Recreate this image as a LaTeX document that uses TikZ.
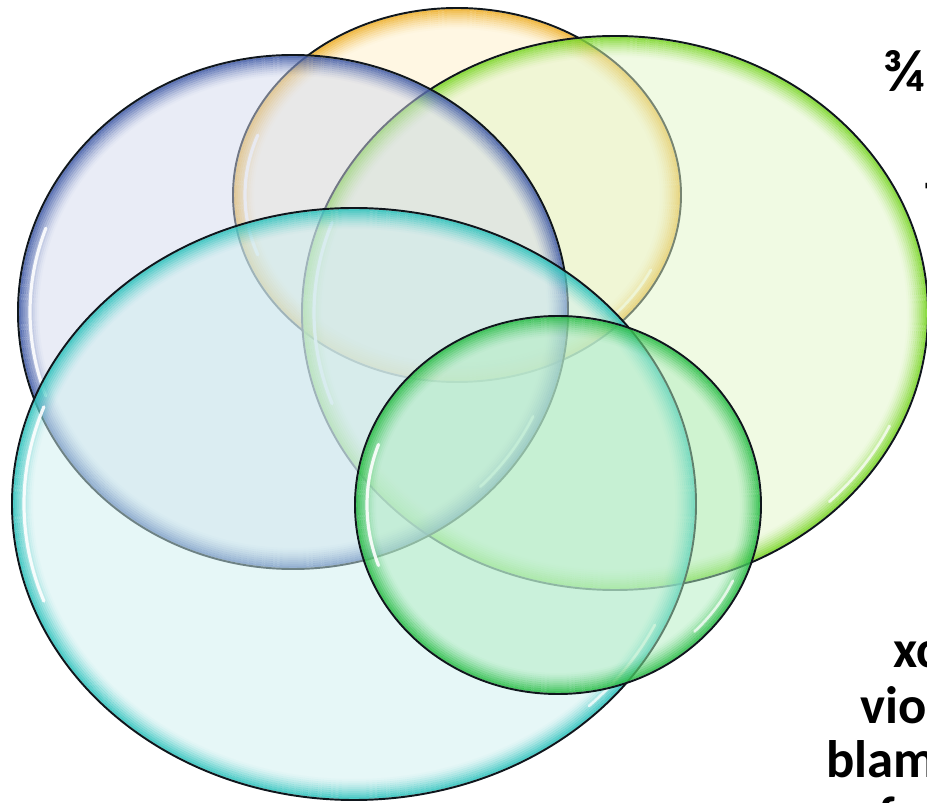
\documentclass[tikz,border=0pt]{standalone}
\usepackage{fontspec}
\setmainfont{Carlito}
\usetikzlibrary{calc}
\definecolor{orfill}{RGB}{255,239,199}
\definecolor{orrim}{RGB}{236,168,24}
\definecolor{blfill}{RGB}{211,217,237}
\definecolor{blrim}{RGB}{50,78,160}
\definecolor{lmfill}{RGB}{225,245,199}
\definecolor{lmrim}{RGB}{110,210,20}
\definecolor{cyfill}{RGB}{205,239,239}
\definecolor{cyrim}{RGB}{30,190,184}
\definecolor{grfill}{RGB}{175,237,191}
\definecolor{grrim}{RGB}{30,184,60}
\definecolor{edge}{RGB}{15,22,28}

\begin{document}
\begin{tikzpicture}[x=0.02cm,y=-0.02cm,
    txt/.style={font=\bfseries\fontsize{30}{36}\selectfont,
                inner sep=0pt,anchor=base west}]
  \useasboundingbox (0,0) rectangle (927,803);
  \clip (0,0) rectangle (927,803);
  % bubbles: centre / radii / fill / rim
  \foreach \cx/\cy/\rx/\ry/\fc/\rc in {457/195/224/187/orfill/orrim,
      615/313/313/277/lmfill/lmrim,
      293/312/275/257/blfill/blrim,
      354/504/342/296/cyfill/cyrim,
      558/505/203/189/grfill/grrim}{
    \fill[\fc,fill opacity=0.5] (\cx,\cy) ellipse [x radius=\rx,y radius=\ry];
    \foreach \k in {1,...,10}{
      \pgfmathsetmacro\op{0.85*(1-\k/11)^1.5}
      \draw[\rc,line width=1.2pt,draw opacity=\op]
        (\cx,\cy) ellipse [x radius=\rx-2*\k,y radius=\ry-2*\k];
    }
    \draw[white,line width=1.8pt,draw opacity=0.9,line cap=round]
      ($(\cx,\cy)+(160:\rx-12 and \ry-12)$)
      arc [start angle=160,end angle=200,x radius=\rx-12,y radius=\ry-12];
    \draw[white,line width=1.5pt,draw opacity=0.75,line cap=round]
      ($(\cx,\cy)+(25:\rx-10 and \ry-10)$)
      arc [start angle=25,end angle=45,x radius=\rx-10,y radius=\ry-10];
    \draw[edge,line width=1.1pt] (\cx,\cy) ellipse [x radius=\rx,y radius=\ry];
  }
  % cut-off text at the edges
  \node[txt] (lpart) at (-13,151) {l};
  \node[txt,font=\bfseries\fontsize{34}{40}\selectfont] (frac) at (883,92) {¾};
  \node[txt] (tpart) at (925,218) {T};
  \node[txt] (line1) at (893,668) {xc};
  \node[txt] (line2) at (860,724) {vio};
  \node[txt] (line3) at (826,778) {blam};
  \node[txt] (line4) at (878,833) {f};
\end{tikzpicture}
\end{document}
